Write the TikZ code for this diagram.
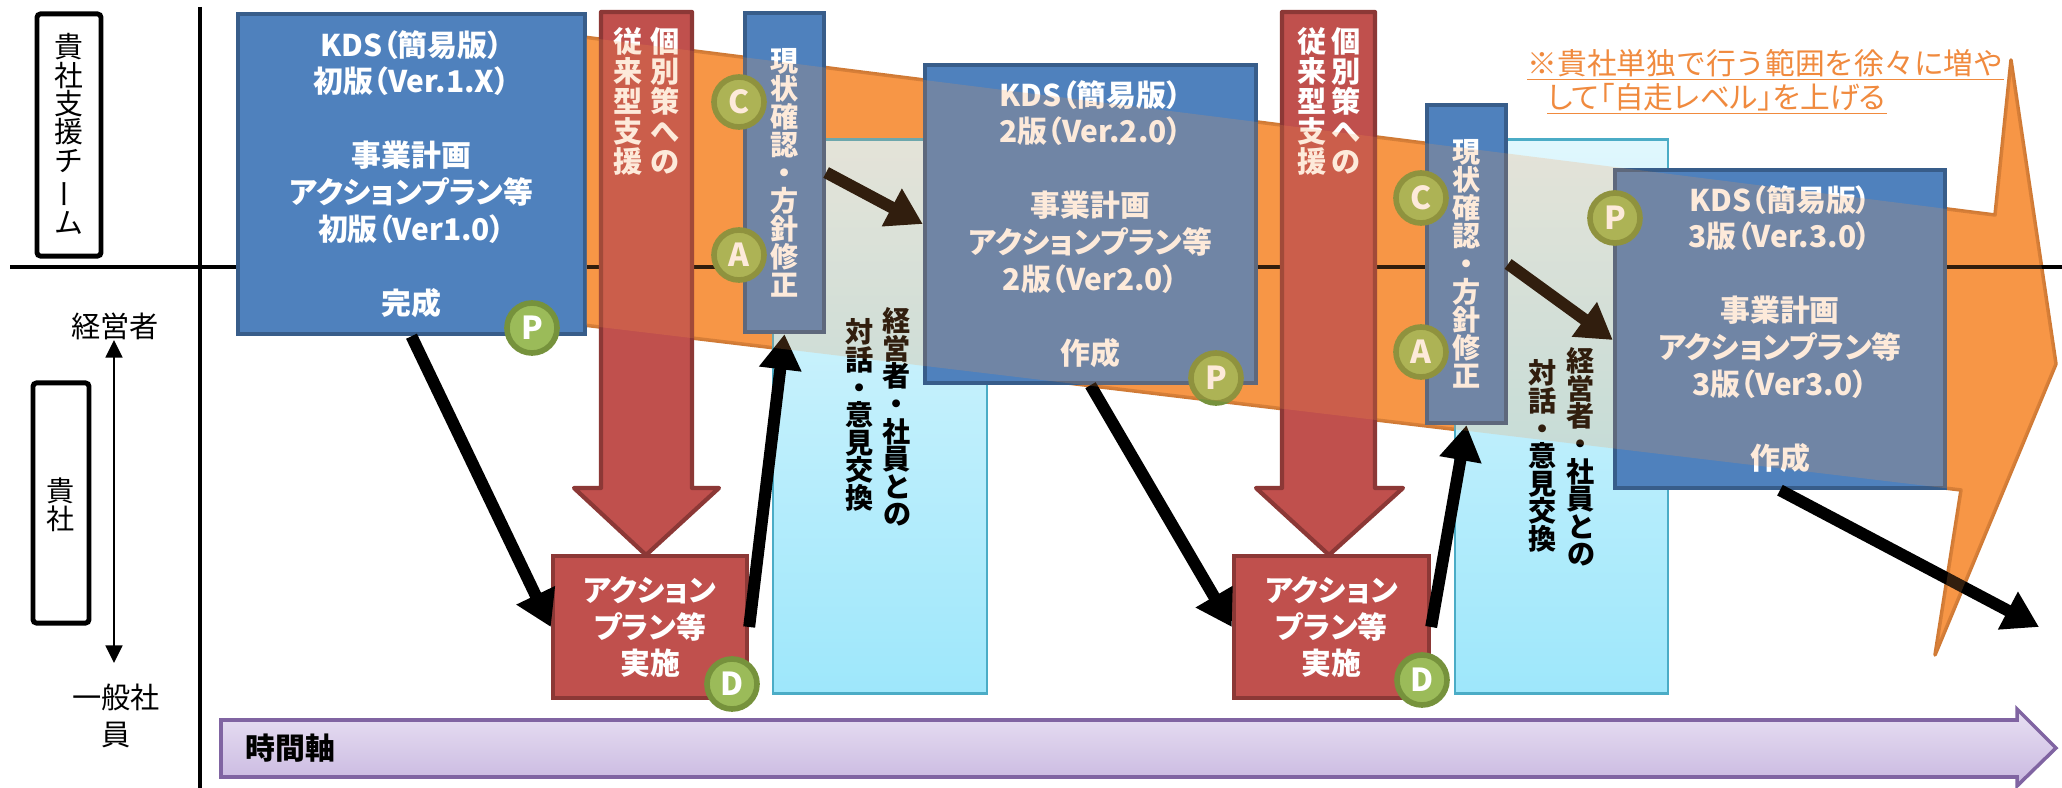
\documentclass[tikz,border=0pt]{standalone}
\usepackage{fontspec}
\usepackage{graphicx}
\newfontfamily\jp[RawFeature=+palt]{Noto Sans CJK JP}
\newfontfamily\jpf{Noto Sans CJK JP}
\usetikzlibrary{arrows.meta,calc}
\definecolor{kblue}{HTML}{4F81BD}
\definecolor{kblueb}{HTML}{385D8A}
\definecolor{kred}{HTML}{C0504D}
\definecolor{kredb}{HTML}{8C3836}
\definecolor{korange}{HTML}{F79646}
\definecolor{korangeb}{HTML}{D07A35}
\definecolor{kgreen}{HTML}{9BBB59}
\definecolor{kgreenb}{HTML}{76923C}
\definecolor{kcyant}{HTML}{E0F7FD}
\definecolor{kcyanb}{HTML}{9EE7FB}
\definecolor{kcyanl}{HTML}{4BACC6}
\definecolor{kpurt}{HTML}{E8E0F3}
\definecolor{kpurb}{HTML}{C9B8E0}
\definecolor{kpurl}{HTML}{8064A2}
\definecolor{knote}{HTML}{F08A3E}
\begin{document}
\begin{tikzpicture}[x=0.01cm,y=-0.01cm,
  kds/.style={draw=kblueb, fill=kblue, line width=1.2pt, text=white, align=center, inner sep=0pt, font=\jp\bfseries\fontsize{8.5}{10.5}\selectfont},
  gk/.style={kds, font=\jp\bfseries\fontsize{8}{7.95}\selectfont},
  act/.style={draw=kredb, fill=kred, line width=1.2pt, text=white, align=center, inner sep=0pt, font=\jp\bfseries\fontsize{8.5}{10.4}\selectfont},
  vred/.style={text=white, align=center, inner sep=0pt, font=\jp\bfseries\fontsize{8.3}{8.5}\selectfont},
  vcyan/.style={text=black, align=center, inner sep=0pt, font=\jp\bfseries\fontsize{8}{7.85}\selectfont},
  cyanbox/.style={draw=kcyanl, line width=0.8pt, top color=kcyant, bottom color=kcyanb},
  pdca/.style={circle, fill=kgreen, draw=kgreenb, line width=1.6pt, minimum size=0.5cm, inner sep=0pt, text=white, font=\jp\bfseries\fontsize{9}{9}\selectfont},
  flow/.style={line width=3.4pt, -{Triangle[length=10pt,width=11.5pt]}},
  lbl/.style={font=\jpf\fontsize{8.3}{10.5}\selectfont, inner sep=0pt, align=center},
  framebox/.style={draw, line width=1.4pt, rounded corners=1pt, inner sep=0pt}
]
\useasboundingbox (0,0) rectangle (2062,788);
\fill[white] (0,0) rectangle (2062,788);

% orange arrow (base)
\filldraw[fill=korange, draw=korangeb, line width=1pt, line join=round]
  (584,37.1) -- (1995,215) -- (2011,60) -- (2056,364) -- (1935,655) -- (1961,490) -- (584,325.1) -- cycle;

% axes lines
\draw[line width=1.1pt] (200,7) -- (200,788);
\draw[line width=1.1pt] (10,267) -- (2062,267);

% dialogue boxes
\node[cyanbox, minimum width=2.14cm, minimum height=5.53cm] (cy1) at (880,416.5) {};
\node[cyanbox, minimum width=2.13cm, minimum height=5.53cm] (cy2) at (1561.5,416.5) {};
\node[vcyan] (cy1r) at (897,417) {経\\営\\者\\・\\社\\員\\と\\の};
\node[vcyan] (cy1l) at (860,415) {対\\話\\・\\意\\見\\交\\換};
\node[vcyan] (cy2r) at (1581,457) {経\\営\\者\\・\\社\\員\\と\\の};
\node[vcyan] (cy2l) at (1543,456) {対\\話\\・\\意\\見\\交\\換};

% red support arrows
\filldraw[fill=kred, draw=kredb, line width=1.2pt, line join=round]
  (601,12) -- (692,12) -- (692,488) -- (719,488) -- (646,555) -- (574,488) -- (601,488) -- cycle;
\filldraw[fill=kred, draw=kredb, line width=1.2pt, line join=round]
  (1282,12) -- (1375,12) -- (1375,488) -- (1403,488) -- (1329,555) -- (1256,488) -- (1282,488) -- cycle;
\node[vred, anchor=north] (rb1r) at (665,27) {個\\別\\策\\へ\\の};
\node[vred, anchor=north] (rb1l) at (628,27) {従\\来\\型\\支\\援};
\node[vred, anchor=north] (rb2r) at (1346,27) {個\\別\\策\\へ\\の};
\node[vred, anchor=north] (rb2l) at (1312,27) {従\\来\\型\\支\\援};

% KDS boxes
\node[kds, minimum width=3.47cm, minimum height=3.2cm] (b1) at (411.5,174)
  {KDS（簡易版）\\初版（Ver.1.X）\\[10.5pt]事業計画\\アクションプラン等\\初版（Ver1.0）\\[10.5pt]完成};
\node[kds, minimum width=3.31cm, minimum height=3.18cm] (b2) at (1090.5,224)
  {KDS（簡易版）\\2版（Ver.2.0）\\[10.5pt]事業計画\\アクションプラン等\\2版（Ver2.0）\\[10.5pt]作成};
\node[kds, minimum width=3.30cm, minimum height=3.18cm] (b3) at (1780,329)
  {KDS（簡易版）\\3版（Ver.3.0）\\[10.5pt]事業計画\\アクションプラン等\\3版（Ver3.0）\\[10.5pt]作成};
\node[gk, minimum width=0.79cm, minimum height=3.19cm] (g1) at (784.5,172.5)
  {現\\状\\確\\認\\・\\方\\針\\修\\正};
\node[gk, minimum width=0.79cm, minimum height=3.18cm] (g2) at (1466.5,264)
  {現\\状\\確\\認\\・\\方\\針\\修\\正};

% action boxes
\node[act, minimum width=1.94cm, minimum height=1.42cm] (a1) at (650,627) {アクション\\プラン等\\実施};
\node[act, minimum width=1.95cm, minimum height=1.42cm] (a2) at (1331.5,627) {アクション\\プラン等\\実施};

% flow arrows
\coordinate (gend) at (2039,627);
\draw[flow] (b1.south) -- (a1.west);
\draw[flow] (a1.east) -- (g1.south);
\draw[flow] (g1.east) -- (b2.west);
\draw[flow] (b2.south) -- (a2.west);
\draw[flow] (a2.east) -- (g2.south);
\draw[flow] (g2.east) -- ($(b3.west)+(0,11)$);
\draw[flow] (b3.south) -- (gend);

% PDCA circles
\node[pdca] (p1) at (532,328) {P};
\node[pdca] (c1) at (739,102) {C};
\node[pdca] (ac1) at (739,255) {A};
\node[pdca] (d1) at (732,684) {D};
\node[pdca] (p2) at (1216,378) {P};
\node[pdca] (c2) at (1421,198) {C};
\node[pdca] (ac2) at (1421,352) {A};
\node[pdca] (d2) at (1422,680) {D};
\node[pdca] (p3) at (1615,218) {P};

% translucent orange overlay
\fill[korange, fill opacity=0.2]
  (586,37.4) -- (1995,215) -- (2011,60) -- (2056,364) -- (1935,655) -- (1961,490) -- (586,325.4) -- cycle;

% note
\node[anchor=west, text=knote, font=\jpf\fontsize{8.45}{10}\selectfont, inner sep=0pt] (note1) at (1527,63) {※貴社単独で行う範囲を徐々に増や};
\node[anchor=west, text=knote, font=\jp\fontsize{8.45}{10}\selectfont, inner sep=0pt] (note2) at (1547,97) {して「自走レベル」を上げる};
\draw[knote, line width=0.5pt] ($(note1.south west)+(0,2)$) -- ($(note1.south east)+(0,2)$);
\draw[knote, line width=0.5pt] ($(note2.south west)+(0,2)$) -- ($(note2.south east)+(0,2)$);

% left labels
\node[framebox, minimum width=0.64cm, minimum height=2.42cm] (team) at (69,135) {};
\node[lbl, font=\jpf\fontsize{8.2}{8.1}\selectfont] (teamt) at (69,134) {貴\\社\\支\\援\\チ\\\rotatebox[origin=c]{90}{ー}\\ム};
\node[framebox, minimum width=0.56cm, minimum height=2.4cm] (co) at (61,503) {};
\node[lbl, font=\jpf\fontsize{8}{7.8}\selectfont] (cot) at (61,505) {貴\\社};
\node[lbl] (mgr) at (115,326) {経営者};
\node[lbl] (emp) at (116,716) {一般社\\員};
\coordinate (up) at (114,340);
\coordinate (dn) at (114,663);
\draw[line width=0.6pt, {Triangle[length=5pt,width=4.8pt]}-{Triangle[length=5pt,width=4.8pt]}] (up) -- (dn);

% time axis
\draw[draw=kpurl, line width=1pt, top color=kpurt, bottom color=kpurb, line join=miter]
  (221,720) -- (2017,720) -- (2017,709) -- (2056,748) -- (2017,786) -- (2017,777) -- (221,777) -- cycle;
\node[anchor=west, font=\jp\bfseries\fontsize{8.5}{10}\selectfont, inner sep=0pt] (time) at (245,748) {時間軸};
\end{tikzpicture}
\end{document}
